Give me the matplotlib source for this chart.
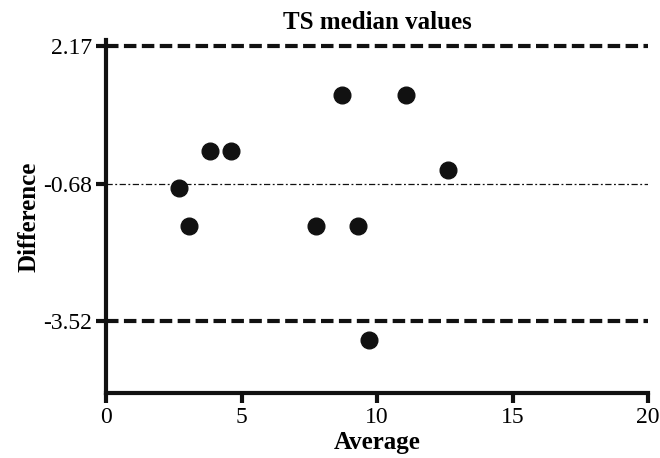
import numpy as np
import matplotlib
matplotlib.use("Agg")
import matplotlib.pyplot as plt

plt.rcParams['font.family'] = ['Liberation Serif', 'DejaVu Serif']

# data
avg = [2.69, 3.06, 3.84, 4.61, 7.75, 8.71, 9.30, 9.70, 11.07, 12.62]
diff = [-0.76, -1.55, 0.01, 0.01, -1.55, 1.17, -1.55, -3.90, 1.17, -0.39]
mean_diff = -0.68
upper = 2.17
lower = -3.52
xticks = [0, 5, 10, 15, 20]

fig = plt.figure(figsize=(6.6, 4.58), dpi=100)
ax = fig.add_axes([0.1606, 0.142, 0.8214, 0.771])

ax.axhline(upper, color='#111111', lw=3, ls=(0, (3, 1.3)))
ax.axhline(lower, color='#111111', lw=3, ls=(0, (3, 1.3)))
ax.axhline(mean_diff, color='#111111', lw=0.9, ls=(0, (5, 2, 1.5, 2)))
ax.plot(avg, diff, 'o', color='#111111', ms=12, clip_on=False)

ax.set_xlim(0, 20)
ax.set_ylim(-5.0, 2.3)
ax.set_xticks(xticks)
ax.set_yticks([upper, mean_diff, lower])
ax.set_yticklabels(['2.17', '-0.68', '-3.52'])

for s in ['top', 'right']:
    ax.spines[s].set_visible(False)
for s in ['left', 'bottom']:
    ax.spines[s].set_linewidth(3)
    ax.spines[s].set_color('#111111')
ax.tick_params(width=3, length=7, color='#111111', labelsize=17, direction='out', pad=3)

ax.set_title('TS median values', fontsize=18, fontweight='bold', pad=8)
ax.set_xlabel('Average', fontsize=18, fontweight='bold', labelpad=2)
ax.set_ylabel('Difference', fontsize=18, fontweight='bold', labelpad=2)

fig.savefig('out.png', dpi=100)
